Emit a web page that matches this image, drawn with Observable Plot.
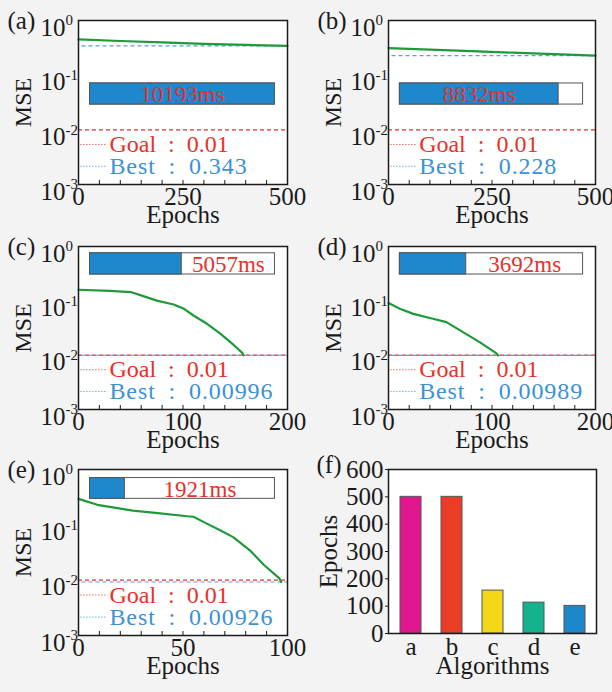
<!DOCTYPE html>
<html><head><meta charset="utf-8">
<script src="https://cdn.jsdelivr.net/npm/d3@7"></script>
<script src="https://cdn.jsdelivr.net/npm/@observablehq/plot@0.6"></script>
<style>
html,body{margin:0;padding:0;background:#f3f3f3;}
#wrap{position:relative;width:612px;height:692px;overflow:hidden;background:#f3f3f3;}
.panel{position:absolute;}
.panel svg{overflow:visible;}
.panel g[fill="#3b92d6"] text{letter-spacing:0.9px;}
</style></head>
<body><div id="wrap"></div>
<script>
// ---------- data ----------
const panelNames = ["(a)","(b)","(c)","(d)","(e)"];
const epochsA = [0,100,200,300,400,500];
const mseA = [0.45,0.422,0.397,0.375,0.357,0.343];
const epochsB = [0,100,200,300,400,500];
const mseB = [0.312,0.293,0.275,0.258,0.242,0.228];
const epochsC = [0,30,50,62,75,91,101,110,123,136,149,157,158];
const mseC = [0.16,0.153,0.145,0.122,0.101,0.0855,0.0713,0.0537,0.0378,0.0247,0.0151,0.0109,0.00996];
const epochsD = [0,11,24,43,56,72,88,104,106];
const mseD = [0.091,0.0716,0.0575,0.0468,0.0406,0.0266,0.0174,0.0109,0.00989];
const epochsE = [0,9,26,38,52,55,60,68,74,82,89,96,97];
const mseE = [0.295,0.23,0.18,0.163,0.143,0.14,0.112,0.079,0.06,0.0346,0.0184,0.0109,0.00926];
const trainTimeMs = [10193,8832,5057,3692,1921];
const goalMSE = 0.01;
const bestMSE = [0.343,0.228,0.00996,0.00989,0.00926];
const bestLabels = ["0.343","0.228","0.00996","0.00989","0.00926"];
const epochMax = [500,500,200,200,100];
const epochTicks = [[0,250,500],[0,250,500],[0,100,200],[0,100,200],[0,50,100]];
const epochMinorStep = [50,50,20,20,10];
const mseTicks = [1,0.1,0.01,0.001];
const algorithms = ["a","b","c","d","e"];
const algorithmEpochs = [500,500,157,113,101];
const algorithmColors = ["#e0178f","#ea3d28","#f4d816","#14b28e","#1c87c9"];

const curves = [[epochsA,mseA],[epochsB,mseB],[epochsC,mseC],[epochsD,mseD],[epochsE,mseE]];

// ---------- layout / style ----------
const FONT = "'Liberation Serif',serif";
const RED = "#e8312a", BLUE = "#3b92d6", GREEN = "#1f9a3a", INK = "#1a1a1a";
const SP = "\u2002";
const layout = [
  {left:0,   top:0,   height:230, mL:78, mR:19, mT:20, mB:46, barY:[0.029,0.0705]},
  {left:306, top:0,   height:230, mL:82, mR:17, mT:20, mB:46, barY:[0.029,0.0705]},
  {left:0,   top:226, height:230, mL:78, mR:19, mT:20, mB:47, barY:[0.305,0.75]},
  {left:306, top:226, height:230, mL:82, mR:17, mT:20, mB:47, barY:[0.305,0.75]},
  {left:0,   top:449, height:243, mL:78, mR:19, mT:20, mB:57, barY:[0.295,0.70]}
];
const wrap = document.getElementById("wrap");
function place(node, l) {
  const d = document.createElement("div");
  d.className = "panel";
  d.style.left = l.left + "px"; d.style.top = l.top + "px";
  d.appendChild(node); wrap.appendChild(d);
}
const maxTime = d3.max(trainTimeMs);

panelNames.forEach((name, i) => {
  const L = layout[i];
  const xmax = epochMax[i];
  const [ep, ms] = curves[i];
  const pts = ep.map((e, j) => ({e, m: ms[j]}));
  const frameH = L.height - L.mT - L.mB;
  const minor = d3.range(epochMinorStep[i], xmax, epochMinorStep[i]);
  const bx1 = 0.055 * xmax, bx2 = 0.94 * xmax;
  const frac = trainTimeMs[i] / maxTime;
  const bmid = bx1 + (bx2 - bx1) * frac;
  const textX = frac >= 0.5 ? (bx1 + bmid) / 2 : (bmid + bx2) / 2;
  const legX1 = 0.01 * xmax, legX2 = 0.14 * xmax, legT = 0.148 * xmax;
  const goalLegY = 0.0054, bestLegY = 0.00215;
  const p = Plot.plot({
    width: 306, height: L.height,
    marginLeft: L.mL, marginRight: L.mR, marginTop: L.mT, marginBottom: L.mB,
    style: {fontFamily: FONT, fontSize: "25px", color: INK, background: "transparent", overflow: "visible"},
    x: {domain: [0, xmax], axis: null},
    y: {type: "log", domain: [0.001, 1], axis: null},
    marks: [
      Plot.frame({fill: "white"}),
      Plot.tickX(minor, {x: d => d, stroke: INK, strokeWidth: 1, insetTop: frameH - 4}),
      Plot.ruleY([goalMSE], {x1: 0, x2: xmax, stroke: RED, strokeWidth: 1.2, strokeDasharray: "4,3"}),
      Plot.ruleY([bestMSE[i]], {x1: 0, x2: xmax, stroke: "#5a9fe0", strokeWidth: 1.2, strokeDasharray: "4,3", strokeDashoffset: 3.5}),
      Plot.line(pts, {x: "e", y: "m", stroke: GREEN, strokeWidth: 2.2}),
      // time bar
      Plot.rect([0], {x1: bx1, x2: bx2, y1: L.barY[0], y2: L.barY[1], fill: "white", stroke: "#555", strokeWidth: 1}),
      Plot.rect([0], {x1: bx1, x2: bmid, y1: L.barY[0], y2: L.barY[1], fill: "#1f87cc", stroke: "#555", strokeWidth: 1}),
      Plot.text([trainTimeMs[i] + "ms"], {x: textX, y: Math.sqrt(L.barY[0]*L.barY[1]), fill: RED, fontSize: 23, dy: 1}),
      // legend
      Plot.ruleY([goalLegY], {x1: legX1, x2: legX2, stroke: RED, strokeOpacity: 0.7, strokeWidth: 1, strokeDasharray: "1.5,1.5"}),
      Plot.ruleY([bestLegY], {x1: legX1, x2: legX2, stroke: BLUE, strokeOpacity: 0.7, strokeWidth: 1, strokeDasharray: "1.5,1.5"}),
      Plot.text(["Goal" + SP + ":" + SP + "0.01"], {x: legT, y: goalLegY, textAnchor: "start", fill: RED, fontSize: 24}),
      Plot.text(["Best" + SP + ":" + SP + bestLabels[i]], {x: legT, y: bestLegY, textAnchor: "start", fill: BLUE, fontSize: 24}),
      // axes
      Plot.axisX(epochTicks[i], {tickSize: 0, tickPadding: 3, fontSize: 25, label: null}),
      Plot.text(mseTicks, {y: d => d, frameAnchor: "left", text: () => "10", textAnchor: "end", lineAnchor: "middle", dx: -13, dy: 7, fontSize: 25, fill: INK}),
      Plot.text(mseTicks, {y: d => d, frameAnchor: "left", text: d => String(Math.round(Math.log10(d))), textAnchor: "start", lineAnchor: "middle", dx: -13, dy: 0, fontSize: 15, fill: INK}),
      Plot.text(["Epochs"], {frameAnchor: "bottom", textAnchor: "middle", lineAnchor: "middle", dy: 30, fontSize: 25, fill: INK}),
      Plot.text(["MSE"], {frameAnchor: "left", textAnchor: "middle", lineAnchor: "middle", dx: -55, rotate: -90, fontSize: 24, fill: INK}),
      Plot.text([name], {frameAnchor: "top-left", textAnchor: "start", lineAnchor: "middle", dx: -71, dy: 0, fontSize: 25, fill: INK}),
      Plot.frame({stroke: INK, strokeWidth: 1.5})
    ]
  });
  place(p, L);
});

// ---------- panel (f) ----------
const bars = algorithms.map((a, i) => ({a, v: algorithmEpochs[i], c: algorithmColors[i]}));
const pf = Plot.plot({
  width: 306, height: 243,
  marginLeft: 82, marginRight: 16, marginTop: 20, marginBottom: 59,
  style: {fontFamily: FONT, fontSize: "25px", color: INK, background: "transparent", overflow: "visible"},
  x: {domain: algorithms, paddingInner: 0.5, paddingOuter: 0.25, axis: null},
  y: {domain: [0, 600], axis: null},
  color: {type: "identity"},
  marks: [
    Plot.frame({fill: "white"}),
    Plot.barY(bars, {x: "a", y: "v", fill: "c", stroke: "#555", strokeWidth: 1}),
    Plot.axisX({tickSize: 0, tickPadding: 4, fontSize: 25, label: null}),
    Plot.axisY(d3.range(0, 601, 100), {tickSize: 3, tickPadding: 2, fontSize: 25, label: null}),
    Plot.text(["Algorithms"], {frameAnchor: "bottom", textAnchor: "middle", lineAnchor: "middle", dy: 32, fontSize: 25, fill: INK}),
    Plot.text(["Epochs"], {frameAnchor: "left", textAnchor: "middle", lineAnchor: "middle", dx: -60, rotate: -90, fontSize: 25, fill: INK}),
    Plot.text(["(f)"], {frameAnchor: "top-left", textAnchor: "start", lineAnchor: "middle", dx: -72, dy: -5, fontSize: 25, fill: INK}),
    Plot.frame({stroke: INK, strokeWidth: 1.5})
  ]
});
place(pf, {left: 306, top: 449});
</script>
</body></html>
